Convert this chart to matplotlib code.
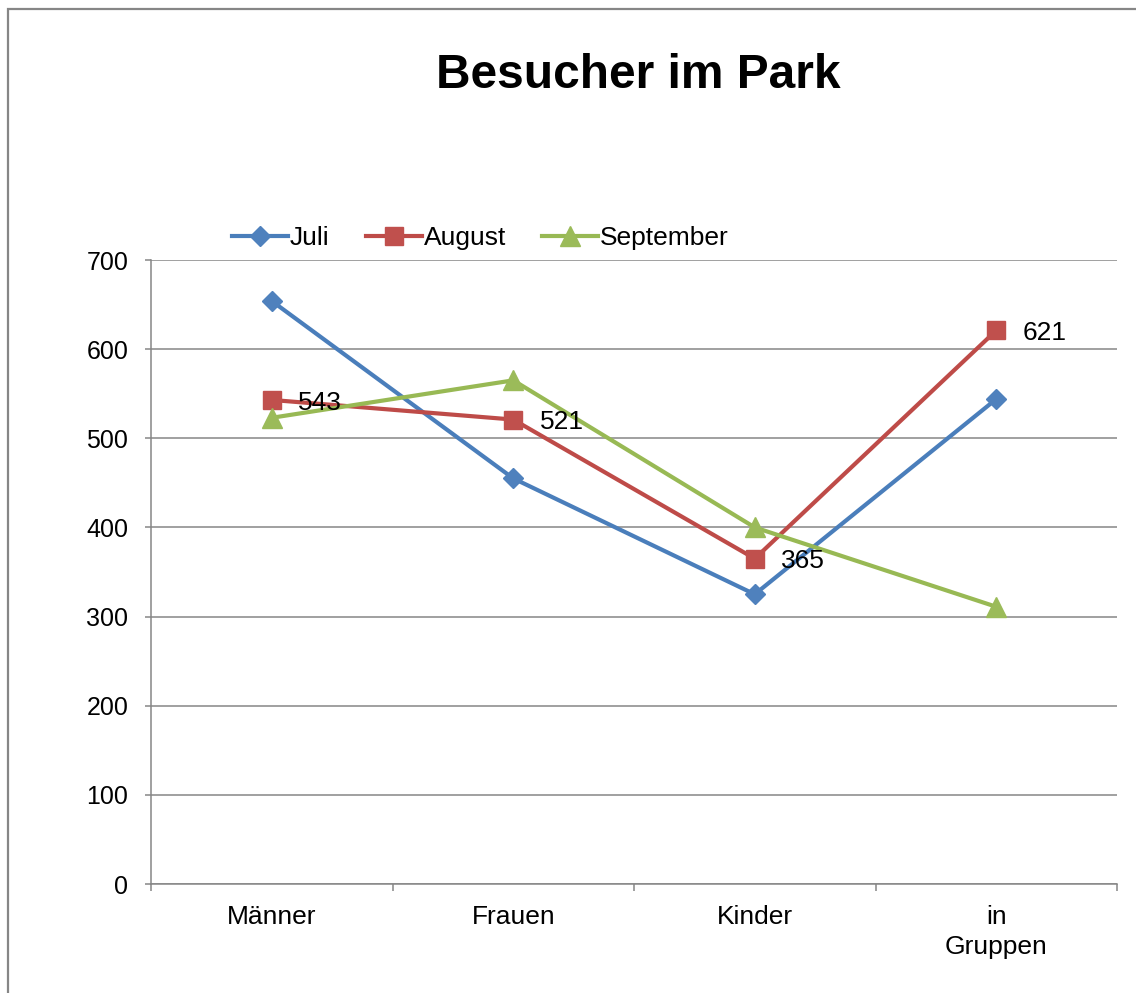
import matplotlib
matplotlib.use("Agg")
import matplotlib.pyplot as plt
from matplotlib.patches import Rectangle
from matplotlib.ticker import FixedLocator, NullFormatter

plt.rcParams['font.family'] = ['Liberation Sans', 'DejaVu Sans']

categories = ["Männer", "Frauen", "Kinder", "in\nGruppen"]
series_names = ["Juli", "August", "September"]
juli = [654, 455, 325, 544]
august = [543, 521, 365, 621]
september = [523, 565, 400, 311]
yticks = [0, 100, 200, 300, 400, 500, 600, 700]
title = "Besucher im Park"

W, H = 1136, 993
fig = plt.figure(figsize=(W / 100, H / 100), dpi=100)
fig.patch.set_facecolor("white")

# outer chart border (only top/left visible in reference)
fig.add_artist(Rectangle((8 / W, -0.05), 1.2, 1 - 9 / H + 0.05, transform=fig.transFigure,
                         fill=False, edgecolor="#868686", linewidth=1.6))

ax = fig.add_axes([151 / W, 1 - 884 / H, (1117 - 151) / W, (884 - 260) / H])
x = list(range(len(categories)))

styles = [
    dict(color="#4A7EBB", marker="D", ms=10.5, mfc="#4F81BD", mec="#4F81BD"),
    dict(color="#BE4B48", marker="s", ms=13, mfc="#C0504D", mec="#C0504D"),
    dict(color="#98B954", marker="^", ms=14, mfc="#9BBB59", mec="#9BBB59"),
]
lines = []
for name, vals, st in zip(series_names, [juli, august, september], styles):
    ln, = ax.plot(x, vals, lw=3, label=name, zorder=3, **st)
    lines.append(ln)

for xi, v in zip(x, august):
    ax.annotate(str(v), (xi, v), xytext=(19, -2), textcoords="offset points",
                ha="left", va="center", fontsize=19, color="black", zorder=4)

ax.set_xlim(-0.5, 3.5)
ax.set_ylim(0, 700)
ax.set_yticks(yticks)
ax.set_xticks(x)
ax.set_xticklabels(categories, fontsize=19, linespacing=1.35)
ax.xaxis.set_minor_locator(FixedLocator([-0.5, 0.5, 1.5, 2.5, 3.5]))
ax.xaxis.set_minor_formatter(NullFormatter())
ax.tick_params(axis="x", which="major", length=0, pad=15)
ax.tick_params(axis="x", which="minor", length=5, width=1.1, color="#868686", direction="out")
ax.tick_params(axis="y", length=4.3, width=1.1, color="#868686", pad=12, labelsize=18)

ax.grid(axis="y", color="#868686", lw=1.1, zorder=0)
for s in ["top", "right"]:
    ax.spines[s].set_visible(False)
for s in ["left", "bottom"]:
    ax.spines[s].set_color("#868686")
    ax.spines[s].set_linewidth(1.1)

fig.text(638 / W, 1 - 75 / H, title, ha="center", va="center", fontsize=34.5, fontweight="bold")

fig.legend(handles=lines, loc="center left", bbox_to_anchor=(232 / W, 1 - 238 / H),
           ncol=3, frameon=False, fontsize=19, handlelength=2.12, handletextpad=0.08,
           columnspacing=1.36, borderpad=0, borderaxespad=0)

fig.savefig("out.png", dpi=100)
